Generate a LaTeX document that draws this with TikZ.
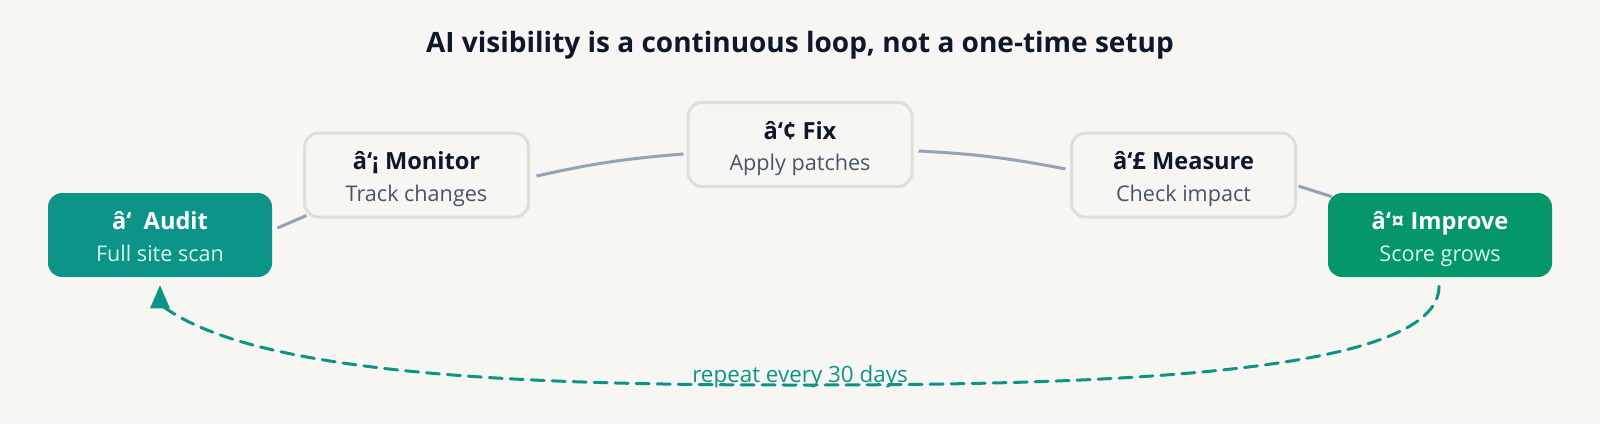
\documentclass[tikz,border=0pt]{standalone}
\usepackage{fontspec}
\setmainfont{Open Sans}
\usetikzlibrary{calc}
\definecolor{bg}{HTML}{F7F6F2}
\definecolor{teal}{HTML}{0D9488}
\definecolor{emer}{HTML}{059669}
\definecolor{boxline}{HTML}{E0DED9}
\definecolor{ink}{HTML}{0F172A}
\definecolor{sub}{HTML}{475569}
\definecolor{conn}{HTML}{94A3B8}
\definecolor{lightsub}{HTML}{D5F5EE}
\newcommand{\steptext}[2]{\raisebox{-2pt}[\height][\depth]{\begin{tabular}{@{}c@{}}{\fontsize{11.8}{15.8}\selectfont\bfseries #1}\\{\fontsize{10.8}{15.8}\selectfont #2}\end{tabular}}}
\tikzset{
  stepnode/.style={rectangle, rounded corners=7pt, minimum width=112pt, minimum height=42pt,
    align=center, inner sep=0pt, font=\fontsize{10.8}{15.8}\selectfont},
  plainbox/.style={stepnode, fill=bg, draw=boxline, line width=1.5pt, text=ink},
  tealbox/.style={stepnode, fill=teal, text=white},
  emerbox/.style={stepnode, fill=emer, text=white},
  conn/.style={draw=conn, line width=1.5pt},
  loopline/.style={draw=teal, line width=1.5pt, dash pattern=on 6.5pt off 4pt, line cap=round},
}
\begin{document}
\begin{tikzpicture}[x=0.5pt,y=-0.5pt]
\fill[bg] (0,0) rectangle (1600,424);
\useasboundingbox (0,0) rectangle (1600,424);
\node[font=\bfseries\fontsize{14}{16}\selectfont, text=ink] (title) at (800,45) {AI visibility is a continuous loop, not a one-time setup};
\node[tealbox] (aud) at (160,235) {\steptext{â‘~\ Audit}{\color{lightsub}Full site scan}};
\node[plainbox] (mon) at (416.5,175) {\steptext{â‘¡ Monitor}{\color{sub}Track changes}};
\node[plainbox] (fix) at (800,144.5) {\steptext{â‘¢ Fix}{\color{sub}Apply patches}};
\node[plainbox] (mea) at (1183.5,175) {\steptext{â‘£ Measure}{\color{sub}Check impact}};
\node[emerbox] (imp) at (1440,235) {\steptext{â‘¤ Improve}{\color{lightsub}Score grows}};
\draw[conn] ($(aud.east)+(5,-7)$) -- ($(mon.south west)+(3.5,-3)$);
\draw[conn] ($(mon.east)+(6.5,1)$) to[bend left=4] ($(fix.west)+(-3,9.5)$);
\draw[conn] ($(fix.east)+(5,6.5)$) to[bend left=4] ($(mea.west)+(-4.5,-6)$);
\draw[conn] ($(mea.east)+(1.5,11)$) -- ($(imp.north west)+(4,4)$);
\coordinate (mid) at (800,385);
\draw[loopline] ($(imp.south)+(-1,9)$) .. controls (1439,375) and (1100,385) .. (mid)
  .. controls (550,385) and (260,378) .. ($(aud.south)+(3,29)$);
\fill[teal] ($(aud.south)+(0,8)$) -- ($(aud.south)+(10,31)$) -- ($(aud.south)+(-10,31)$) -- cycle;
\node[font=\fontsize{11.2}{13}\selectfont, text=teal] (lbl) at (800,377) {repeat every 30 days};
\end{tikzpicture}
\end{document}
